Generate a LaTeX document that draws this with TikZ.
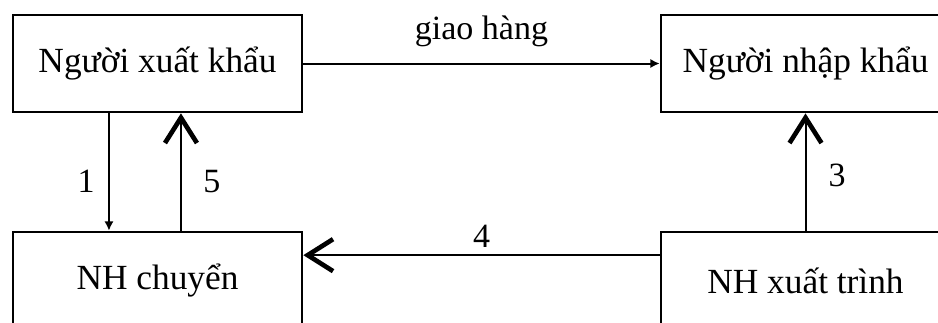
\documentclass[tikz,border=0pt]{standalone}
\usepackage{fontspec}
\setmainfont{Liberation Serif}
\usetikzlibrary{arrows.meta}

\begin{document}
\begin{tikzpicture}[x=0.75pt,y=-0.75pt,
	box/.style={draw,line width=2pt,minimum width=216.75pt,minimum height=72.75pt,inner sep=0pt,font=\fontsize{26.5}{30}\selectfont},
	thinarrow/.style={line width=1.5pt,-{Latex[length=7pt,width=7pt]}},
	barbarrow/.style={line width=1.5pt,-{Straight Barb[length=19pt,width=24pt,line width=3.5pt]}},
	lbl/.style={inner sep=0pt,font=\fontsize{25.5}{30}\selectfont}]
	\useasboundingbox (0,0) rectangle (938,322);
	\clip (0,0) rectangle (938,322);
	
	\node[box] (xk) at (157.5,63.5) {Người xuất khẩu};
	\node[box] (nk) at (805.5,63.5) {Người nhập khẩu};
	\node[box] (nhc) at (157.5,280.5) {NH chuyển};
	\node[box] (nhx) at (805.5,280.5) {NH xuất trình};
	
	\draw[thinarrow] (xk) -- node[lbl,above=12pt] {giao hàng} (nk);
	\draw[thinarrow] ([xshift=-36.4pt]xk.south) -- node[lbl,left=10pt,pos=0.58] {1} ([xshift=-36.4pt]nhc.north);
	\draw[barbarrow] ([xshift=17.6pt]nhc.north) -- node[lbl,right=16pt,pos=0.42] {5} ([xshift=17.6pt]xk.south);
	\draw[barbarrow] (nhx) -- node[lbl,right=16.5pt,pos=0.47] {3} (nk);
	\draw[barbarrow] ([yshift=19pt]nhx.west) -- node[lbl,above=5pt] {4} ([yshift=19pt]nhc.east);
\end{tikzpicture}
\end{document}
